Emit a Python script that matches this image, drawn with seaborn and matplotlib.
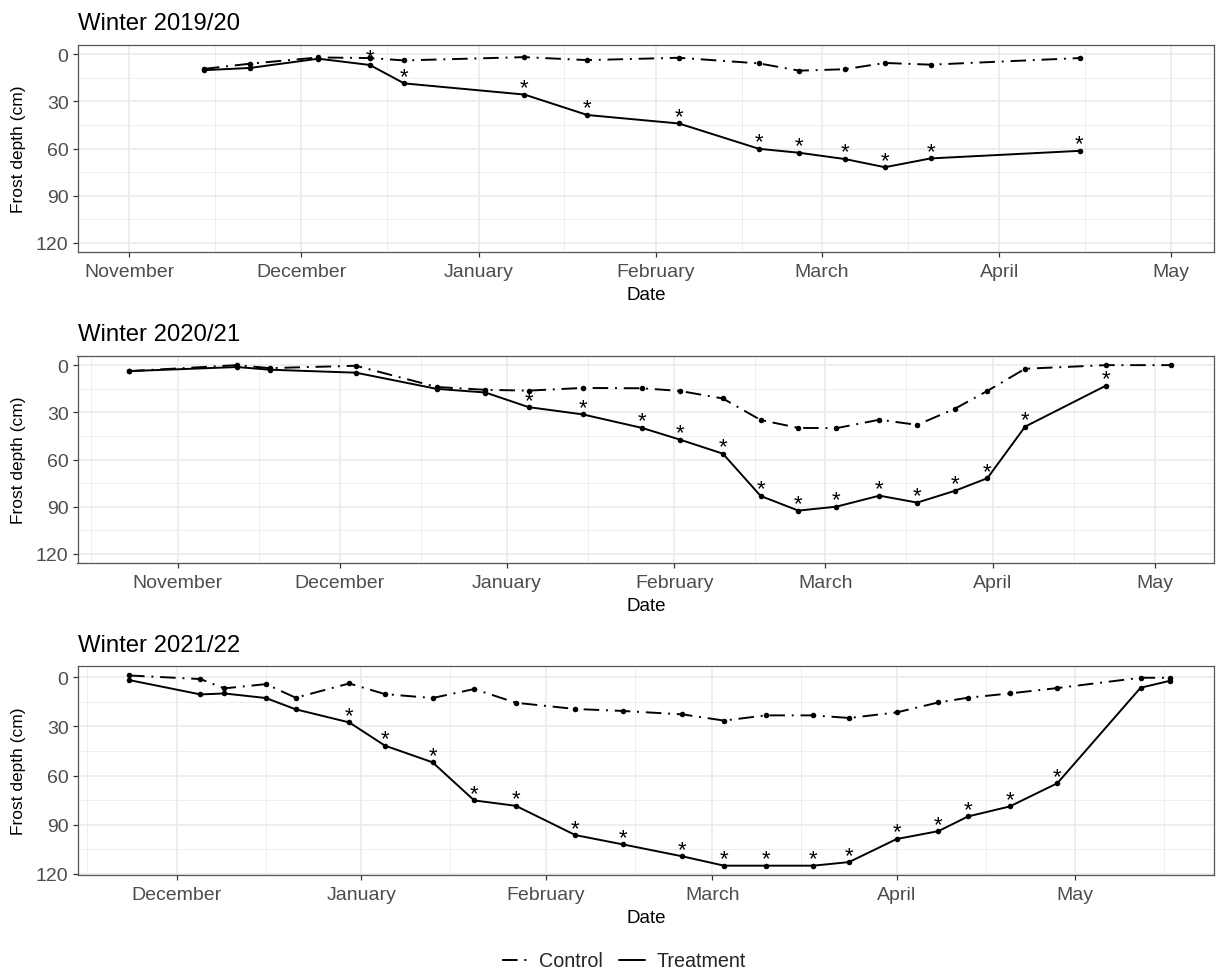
import numpy as np
import pandas as pd
import matplotlib
matplotlib.use("Agg")
import matplotlib.pyplot as plt
import matplotlib.dates as mdates
from matplotlib.lines import Line2D
import seaborn as sns

# ---------------- data: frost depth (cm) per sampling date ----------------
w1_dates = ["2019-11-14", "2019-11-22", "2019-12-04", "2019-12-13", "2019-12-19",
            "2020-01-09", "2020-01-20", "2020-02-05", "2020-02-19", "2020-02-26",
            "2020-03-05", "2020-03-12", "2020-03-20", "2020-04-15"]
w1_control = [9.4, 6.1, 2.1, 2.5, 4.0, 1.9, 3.8, 2.3, 5.9, 10.5, 9.6, 5.6, 6.7, 2.5]
w1_treatment = [10.2, 8.8, 2.9, 6.9, 18.6, 25.7, 38.7, 44.1, 60.2, 62.7, 66.7, 71.9, 66.3, 61.5]
w1_signif = [0, 0, 0, 1, 1, 1, 1, 1, 1, 1, 1, 1, 1, 1]

w2_dates = ["2020-10-23", "2020-11-12", "2020-11-18", "2020-12-04", "2020-12-19",
            "2020-12-28", "2021-01-05", "2021-01-15", "2021-01-26", "2021-02-02",
            "2021-02-10", "2021-02-17", "2021-02-24", "2021-03-03", "2021-03-11",
            "2021-03-18", "2021-03-25", "2021-03-31", "2021-04-07", "2021-04-22",
            "2021-05-04"]
w2_control = [3.8, 0.0, 1.9, 0.4, 13.9, 15.7, 16.2, 14.5, 14.7, 16.4, 21.2,
              34.9, 39.9, 40.1, 34.7, 38.0, 27.7, 16.4, 2.3, 0.0, 0.0]
w2_treatment = [3.8, 1.2, 2.9, 4.8, 15.1, 17.4, 26.7, 31.3, 39.9, 47.3, 56.3,
                83.2, 92.5, 90.0, 83.0, 87.4, 79.9, 71.9, 39.1, 13.0, np.nan]
w2_signif = [0, 0, 0, 0, 0, 0, 1, 1, 1, 1, 1, 1, 1, 1, 1, 1, 1, 1, 1, 1, 0]

w3_dates = ["2021-11-23", "2021-12-05", "2021-12-09", "2021-12-16", "2021-12-21",
            "2021-12-30", "2022-01-05", "2022-01-13", "2022-01-20", "2022-01-27",
            "2022-02-06", "2022-02-14", "2022-02-24", "2022-03-03", "2022-03-10",
            "2022-03-18", "2022-03-24", "2022-04-01", "2022-04-08", "2022-04-13",
            "2022-04-20", "2022-04-28", "2022-05-12", "2022-05-17"]
w3_control = [-1.2, 1.0, 6.7, 4.1, 12.4, 3.7, 10.2, 12.6, 7.1, 15.5, 19.3, 20.5,
              22.6, 26.4, 23.2, 23.2, 24.8, 21.4, 15.3, 12.4, 9.8, 6.5, 0.2, 0.2]
w3_treatment = [1.6, 10.4, 9.8, 12.6, 19.5, 27.5, 41.7, 51.9, 75.2, 78.5, 96.4,
                102.1, 109.4, 115.1, 115.1, 115.1, 112.9, 98.8, 94.0, 85.0, 78.9,
                64.7, 6.3, 2.0]
w3_signif = [0, 0, 0, 0, 0, 1, 1, 1, 1, 1, 1, 1, 1, 1, 1, 1, 1, 1, 1, 1, 1, 1, 0, 0]

titles = ["Winter 2019/20", "Winter 2020/21", "Winter 2021/22"]
groups = ["Control", "Treatment"]
y_ticks = [0, 30, 60, 90, 120]

# ---------------- styling ----------------
sns.set_theme(style="white")
plt.rcParams["font.family"] = ["Liberation Sans", "DejaVu Sans"]

W, H = 1219, 970
fig = plt.figure(figsize=(W / 100, H / 100), dpi=100)

LW = 1.4
DASHDOT = (8, 3.5, 1, 3.5)
line_dashes = {"Control": DASHDOT, "Treatment": ""}
line_markers = {"Control": "o", "Treatment": "o"}


def axes_px(left, top, right, bottom):
    return fig.add_axes([left / W, 1 - bottom / H, (right - left) / W, (bottom - top) / H])


panels = [
    dict(title=titles[0], dates=w1_dates, control=w1_control, treatment=w1_treatment,
         signif=w1_signif, xlim=("2019-10-22 22:00", "2020-05-08 12:00"),
         ylim=(126, -6), box=(77.5, 45.7, 1214, 253.3)),
    dict(title=titles[1], dates=w2_dates, control=w2_control, treatment=w2_treatment,
         signif=w2_signif, xlim=("2020-10-13 10:00", "2021-05-12 00:00"),
         ylim=(126, -6), box=(77.5, 356.7, 1214, 564.3)),
    dict(title=titles[2], dates=w3_dates, control=w3_control, treatment=w3_treatment,
         signif=w3_signif, xlim=("2021-11-14 08:00", "2022-05-24 08:00"),
         ylim=(120.8, -6.8), box=(77.5, 667.3, 1214, 876.0)),
]

for p in panels:
    left, top, right, bottom = p["box"]
    ax = axes_px(left, top, right, bottom)
    ax_h = bottom - top
    ax_w = right - left

    dates = pd.to_datetime(p["dates"])
    df = pd.DataFrame({
        "Date": np.concatenate([dates, dates]),
        "depth": np.concatenate([p["control"], p["treatment"]]),
        "group": [groups[0]] * len(dates) + [groups[1]] * len(dates),
    }).dropna()

    sns.lineplot(data=df, x="Date", y="depth", style="group", style_order=groups,
                 dashes=line_dashes, markers=line_markers, color="black",
                 linewidth=LW, markersize=4.0, markeredgewidth=0,
                 legend=False, ax=ax, sort=True, estimator=None)

    # significance stars above the treatment curve
    for d, v, s in zip(dates, p["treatment"], p["signif"]):
        if s:
            ax.annotate("*", xy=(d, v), xytext=(0, 1.0), textcoords="offset points",
                        ha="center", va="baseline", fontsize=16, color="black")

    ax.set_xlim(pd.Timestamp(p["xlim"][0]), pd.Timestamp(p["xlim"][1]))
    ax.set_ylim(*p["ylim"])
    ax.set_yticks(y_ticks)
    ax.set_yticks([15, 45, 75, 105], minor=True)
    ax.xaxis.set_major_locator(mdates.MonthLocator())
    ax.xaxis.set_major_formatter(mdates.DateFormatter("%B"))
    ax.xaxis.set_minor_locator(mdates.MonthLocator(bymonthday=16))

    ax.set_axisbelow(True)
    ax.grid(which="major", color="#EBEBEB", linewidth=1.2)
    ax.grid(which="minor", color="#EBEBEB", linewidth=0.6)
    for sp in ax.spines.values():
        sp.set_visible(True)
        sp.set_color("#555555")
        sp.set_linewidth(0.9)

    ax.tick_params(axis="both", which="major", direction="out", length=3.4, width=0.9,
                   color="#333333", labelsize=14, labelcolor="#4D4D4D",
                   bottom=True, left=True, top=False, right=False)
    ax.tick_params(axis="x", which="major", pad=4.5)
    ax.tick_params(axis="y", which="major", pad=3.0)
    ax.tick_params(which="minor", length=0)

    ax.set_xlabel("Date", fontsize=13.5, color="black")
    ax.xaxis.set_label_coords(0.5, -46.7 / ax_h)
    ax.xaxis.label.set_verticalalignment("baseline")
    ax.set_ylabel("Frost depth (cm)", fontsize=12.5, color="black")
    ax.yaxis.set_label_coords(-(77.5 - 19) / ax_w, 0.5)
    ax.yaxis.label.set_verticalalignment("center")

    ax.annotate(p["title"], xy=(0, 1), xycoords="axes fraction", xytext=(0, 11.3),
                textcoords="offset points", ha="left", va="baseline",
                fontsize=17.2, color="black")

handles = [Line2D([], [], color="black", linewidth=LW, dashes=DASHDOT),
           Line2D([], [], color="black", linewidth=LW)]
fig.legend(handles, groups, loc="center", bbox_to_anchor=(624 / W, 1 - 962 / H),
           ncol=2, frameon=False, fontsize=14.2, handlelength=1.3,
           handletextpad=0.6, columnspacing=0.8)

fig.savefig("out.png", dpi=100)
